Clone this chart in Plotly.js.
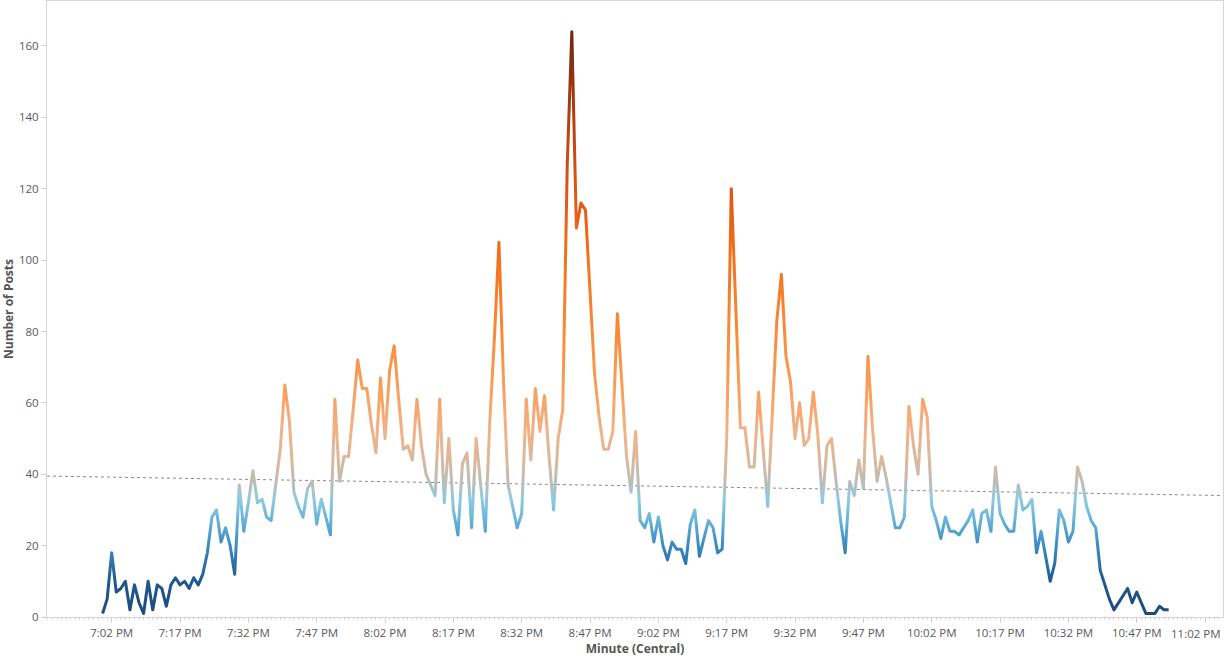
<!DOCTYPE html>
<html>
<head>
<meta charset="utf-8">
<script src="https://cdn.plot.ly/plotly-3.0.1.min.js"></script>
<style>
  html, body { margin: 0; padding: 0; background: #fff; }
  #chart { width: 1224px; height: 659px; }
</style>
</head>
<body>
<div id="chart"></div>
<script>
// posts per minute, one value per minute starting at 7:00 PM
var startMinute = '2013-02-03 19:00:00';
var postCounts = [
  1, 5, 18, 7, 8, 10, 2, 9, 4, 1,          // 7:00 - 7:09
  10, 2, 9, 8, 3, 9, 11, 9, 10, 8,         // 7:10 - 7:19
  11, 9, 12, 18, 28, 30, 21, 25, 20, 12,   // 7:20 - 7:29
  37, 24, 32, 41, 32, 33, 28, 27, 37, 47,  // 7:30 - 7:39
  65, 55, 35, 31, 28, 36, 38, 26, 33, 28,  // 7:40 - 7:49
  23, 61, 38, 45, 45, 58, 72, 64, 64, 54,  // 7:50 - 7:59
  46, 67, 50, 69, 76, 61, 47, 48, 44, 61,  // 8:00 - 8:09
  48, 40, 37, 34, 61, 32, 50, 30, 23, 43,  // 8:10 - 8:19
  46, 25, 50, 37, 24, 55, 78, 105, 66, 37, // 8:20 - 8:29
  31, 25, 29, 61, 44, 64, 52, 62, 45, 30,  // 8:30 - 8:39
  50, 58, 127, 164, 109, 116, 114, 91, 68, 56, // 8:40 - 8:49
  47, 47, 52, 85, 66, 45, 35, 52, 27, 25,  // 8:50 - 8:59
  29, 21, 28, 20, 16, 21, 19, 19, 15, 26,  // 9:00 - 9:09
  30, 17, 22, 27, 25, 18, 19, 50, 120, 85, // 9:10 - 9:19
  53, 53, 42, 42, 63, 47, 31, 57, 83, 96,  // 9:20 - 9:29
  73, 66, 50, 60, 48, 50, 63, 51, 32, 48,  // 9:30 - 9:39
  50, 38, 27, 18, 38, 34, 44, 36, 73, 53,  // 9:40 - 9:49
  38, 45, 39, 32, 25, 25, 28, 59, 48, 40,  // 9:50 - 9:59
  61, 56, 31, 27, 22, 28, 24, 24, 23, 25,  // 10:00 - 10:09
  27, 30, 21, 29, 30, 24, 42, 29, 26, 24,  // 10:10 - 10:19
  24, 37, 30, 31, 33, 18, 24, 17, 10, 15,  // 10:20 - 10:29
  30, 27, 21, 24, 42, 38, 31, 27, 25, 13,  // 10:30 - 10:39
  9, 5, 2, 4, 6, 8, 4, 7, 4, 1,            // 10:40 - 10:49
  1, 1, 3, 2, 2                            // 10:50 - 10:54
];
var yTicks = [0, 20, 40, 60, 80, 100, 120, 140, 160];
// diverging colour by number of posts
var colorStops = [
  [0, '#1c4a78'], [10, '#1f5890'], [20, '#3a8ac2'], [27, '#66b3d8'],
  [33, '#8ecae0'], [38, '#bdbdb6'], [44, '#d9b99c'], [52, '#f0b288'],
  [62, '#f8a262'], [80, '#f98a38'], [100, '#f2731f'], [120, '#df5412'],
  [140, '#b23e0e'], [164, '#6c2912']
];

var t0 = new Date(startMinute.replace(' ', 'T') + 'Z').getTime();
function fmt(ms) {
  return new Date(ms).toISOString().replace('T', ' ').slice(0, 19);
}
var minutes = postCounts.map(function (v, i) { return fmt(t0 + i * 60000); });

// least squares trend over the minutes
var n = postCounts.length, sx = 0, sy = 0, sxx = 0, sxy = 0;
postCounts.forEach(function (v, i) { sx += i; sy += v; sxx += i * i; sxy += i * v; });
var slope = (n * sxy - sx * sy) / (n * sxx - sx * sx);
var icept = (sy - slope * sx) / n;

var xStart = '2013-02-03 18:47:48', xEnd = '2013-02-03 23:05:56';
var trendX = [xStart, xEnd];
var trendY = trendX.map(function (s) {
  var m = (new Date(s.replace(' ', 'T') + 'Z').getTime() - t0) / 60000;
  return icept + slope * m;
});

var data = [
  {
    x: trendX, y: trendY, type: 'scatter', mode: 'lines',
    line: {color: '#8a8a8a', width: 1, dash: 'dot'},
    hoverinfo: 'skip', showlegend: false
  },
  {
    x: minutes, y: postCounts, type: 'scatter', mode: 'lines',
    line: {color: '#f08030', width: 3},
    showlegend: false
  }
];

var axisFont = {family: 'Open Sans, Arial, sans-serif', size: 11.5, color: '#595960'};
var layout = {
  width: 1224, height: 659,
  margin: {l: 47, r: 1, t: 1, b: 42},
  paper_bgcolor: '#fff', plot_bgcolor: '#fff',
  showlegend: false,
  xaxis: {
    type: 'date',
    range: [xStart, xEnd],
    tick0: '2013-02-03 19:02:00',
    dtick: 15 * 60000,
    tickformat: '%-I:%M %p',
    ticks: 'outside', ticklen: 5, tickcolor: '#cfcfcf', tickwidth: 1,
    minor: {dtick: 60000, ticks: 'outside', ticklen: 2, tickcolor: '#d8d8d8', showgrid: false},
    showgrid: false, zeroline: false,
    showline: true, linecolor: '#d6d6d6', linewidth: 1, mirror: true,
    tickfont: axisFont,
    title: {text: 'Minute (Central)', font: {family: 'Open Sans, Arial, sans-serif', size: 12, color: '#555', weight: 'bold'}, standoff: 4},
    automargin: false
  },
  yaxis: {
    range: [0, 172.6],
    tickvals: yTicks,
    ticks: 'outside', ticklen: 5, tickcolor: '#cfcfcf',
    showgrid: false, zeroline: false,
    showline: true, linecolor: '#d6d6d6', linewidth: 1, mirror: true,
    tickfont: axisFont,
    title: {text: 'Number of Posts', font: {family: 'Open Sans, Arial, sans-serif', size: 12, color: '#555', weight: 'bold'}, standoff: 6},
    automargin: false
  },
  // last tick label sits at the right edge, pulled inside like the original
  annotations: [{
    x: '2013-02-03 23:02:00', xref: 'x', y: 0, yref: 'paper',
    yanchor: 'top', xanchor: 'center', yshift: -7, xshift: -9,
    text: '11:02 PM', showarrow: false, font: axisFont
  }]
};

var config = {displayModeBar: false, staticPlot: true};

Plotly.newPlot('chart', data, layout, config).then(function (gd) {
  // colour the line by value with a vertical gradient, like a continuous colour legend
  var ya = gd._fullLayout.yaxis;
  var maxV = colorStops[colorStops.length - 1][0];
  var svgNS = 'http://www.w3.org/2000/svg';
  var defs = gd.querySelector('.main-svg defs');
  var grad = document.createElementNS(svgNS, 'linearGradient');
  grad.setAttribute('id', 'postsGrad');
  grad.setAttribute('gradientUnits', 'userSpaceOnUse');
  grad.setAttribute('x1', 0); grad.setAttribute('x2', 0);
  grad.setAttribute('y1', ya.l2p(0)); grad.setAttribute('y2', ya.l2p(maxV));
  colorStops.forEach(function (s) {
    var st = document.createElementNS(svgNS, 'stop');
    st.setAttribute('offset', s[0] / maxV);
    st.setAttribute('stop-color', s[1]);
    grad.appendChild(st);
  });
  defs.appendChild(grad);
  var lines = gd.querySelectorAll('.scatterlayer .trace .js-line');
  var path = lines[lines.length - 1];
  path.style.stroke = 'url(#postsGrad)';
  path.style.strokeLinejoin = 'round';
});
</script>
</body>
</html>
